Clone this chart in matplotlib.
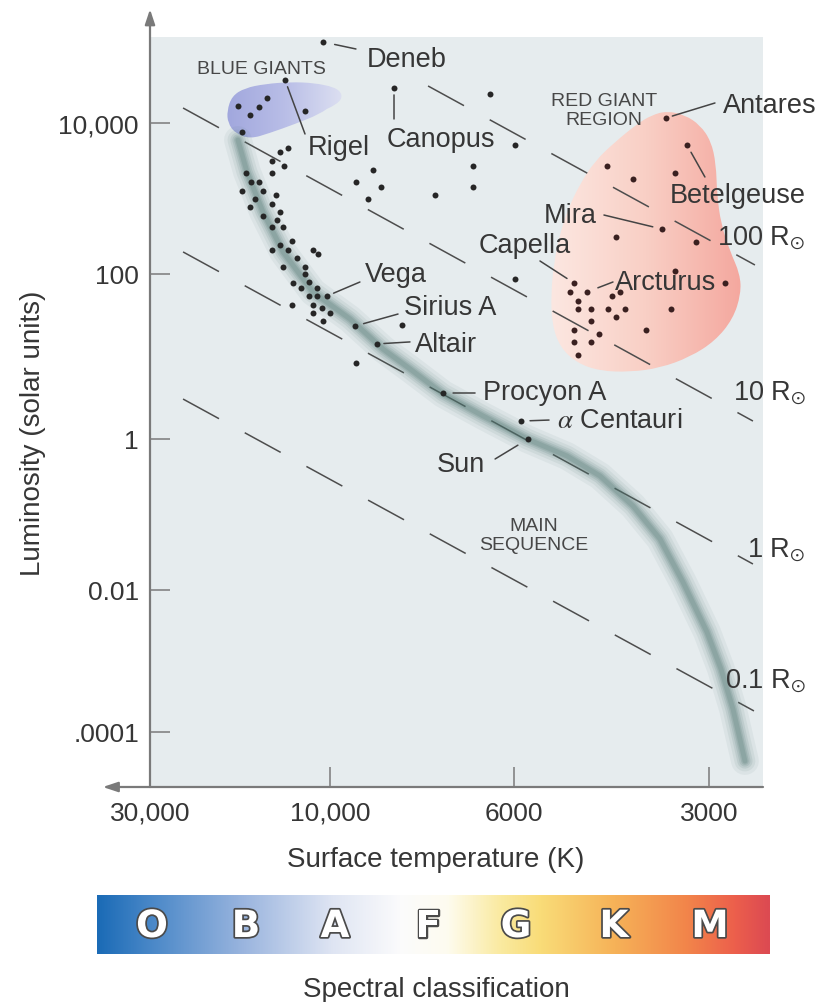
import numpy as np
import matplotlib
matplotlib.use('Agg')
import matplotlib.pyplot as plt
import matplotlib.patheffects as pe
from matplotlib.patches import PathPatch
from matplotlib.path import Path
from matplotlib.colors import LinearSegmentedColormap

plt.rcParams['font.family'] = ['Liberation Sans', 'DejaVu Sans']
plt.rcParams['mathtext.fontset'] = 'stix'
plt.rcParams['lines.scale_dashes'] = False

# ---- axis ticks ----
temp_ticks = [30000, 10000, 6000, 3000]
temp_labels = ['30,000', '10,000', '6000', '3000']
lum_ticks = [1e4, 1e2, 1, 1e-2, 1e-4]
lum_labels = ['10,000', '100', '1', '0.01', '.0001']

# ---- named stars (K, solar units) ----
star_names = ['Deneb', 'Rigel', 'Canopus', 'Antares', 'Betelgeuse', 'Mira',
              'Capella', 'Arcturus', 'Vega', 'Sirius A', 'Altair',
              'Procyon A', r'$\alpha$ Centauri', 'Sun']
star_T = [10440, 13160, 8372, 3496, 3245, 3546, 4848, 4629, 10190, 9329,
          8777, 7306, 5852, 5707]
star_L = [118300, 37110, 29080, 11650, 5112, 394, 77.8, 60.5, 54.1, 23.4,
          14.2, 3.61, 1.65, 1.0]
star_red = [False, False, False, True, True, True, True, True, False, False,
            False, False, False, False]

# ---- unnamed stars ----
dots_T = [17540, 16300, 15430, 14690, 11650, 17110,
          6412, 5979, 6722, 6722, 7469, 8873, 9303, 8680, 9000, 5979,
          13570, 12920, 14250, 13240, 14250, 16700, 16200, 15430, 17110, 15050,
          13910, 15810, 14250, 16300, 13570, 15050, 13820, 14250, 13320, 12610,
          13570, 12920, 14250, 11100, 10760, 12230, 13320, 11650, 11650, 12540,
          11370, 11940, 10830, 11370, 10830, 12610, 11100, 10500, 10000, 11100,
          10440, 8186, 9303]
dots_L = [16800, 12760, 16290, 21440, 14420, 7600,
          24220, 5112, 2695, 1420, 1113, 2385, 1654, 1420, 985, 87.0,
          4130, 4667, 3139, 2695, 2176, 2176, 1654, 1654, 1257, 1257,
          1113, 985, 846, 772, 662, 586, 519, 419, 419, 274,
          242, 208, 208, 208, 184, 163, 124, 124, 100, 77.8,
          80.0, 67.7, 67.7, 54.1, 54.1, 42.1, 42.1, 38.7, 33.7, 33.7,
          26.9, 24.1, 8.34]

red_T = [4311, 3931, 3386, 4176, 3143, 4917, 4779, 4779, 4563, 4296, 4045,
         4235, 4117, 4176, 4563, 4848, 4436, 4848, 4563, 4779, 3753, 3435,
         3386, 2835]
red_L = [2695, 1813, 2176, 309, 265, 60.5, 47.1, 37.6, 37.6, 37.6, 37.6,
         54.1, 60.5, 30.1, 26.9, 21.0, 18.7, 15.0, 15.0, 10.4, 21.0, 37.6,
         110, 77.8]

# ---- main sequence band ----
ms_T = [17540, 16600, 15050, 13320, 11100, 9460, 8632, 8008, 7306, 6537,
        5727, 4970, 4420, 3931, 3571, 3292, 3022, 2875, 2755, 2640]
ms_L = [5955, 2244, 662, 196, 60.5, 28.5, 12.3, 7.06, 3.51, 1.90,
        1.0, 0.595, 0.324, 0.130, 0.0474, 0.0128, 0.00256, 7.72e-4,
        2.11e-4, 3.9e-5]

# ---- constant radius lines (end points) ----
radius_names = ['100', '10', '1', '0.1']
radius_T = [(7617, 2548), (24520, 2566), (24520, 2566), (24520, 2557)]
radius_L = [(30920, 131.6), (15800, 1.65), (196, 0.0221), (3.05, 1.98e-4)]

# ---- regions (outline control points) ----
blue_T = [18750, 18190, 16800, 14870, 12770, 10960, 9860, 9645, 9780, 10630,
          12380, 14430, 16300, 17860, 18640]
blue_L = [14420, 22780, 29080, 32860, 34910, 33870, 29990, 23490, 17850,
          13160, 9700, 7370, 6140, 7370, 10000]

red_reg_T = [3483, 3268, 3098, 2979, 2926, 2916, 2875, 2785, 2687, 2678,
             2755, 2937, 3210, 3571, 3973, 4420, 4797, 5096, 5243, 5261,
             5206, 5113, 4952, 4746, 4500, 4190, 3875, 3675]
red_reg_L = [14420, 12760, 9408, 5774, 2864, 1147, 459.6, 201.6, 100, 57.2,
             28.5, 15.4, 9.86, 7.26, 6.49, 6.67, 8.34, 13.0, 24.8, 57.2,
             135.7, 309, 726, 1556, 3139, 5603, 9700, 12760]

spectral_classes = ['O', 'B', 'A', 'F', 'G', 'K', 'M']

# the printed temperature axis is not a clean log scale: interpolate log T
# between the printed ticks (increasing with T, axis inverted later)
t_knot_log = np.array([3.0, np.log10(3000), np.log10(6000), 4.0, np.log10(30000), 4.7])
t_knot_pos = np.array([-868.0, -559.0, -364.0, -180.0, 0.0, 84.0])
l_knot_log = np.array([-6.0, -4.0, -2.0, 0.0, 2.0, 4.0, 6.0])
l_knot_pos = np.array([-87.0, 55.0, 197.0, 348.0, 513.0, 664.0, 815.0])


def t_fwd(t):
    t = np.asarray(t, dtype=float)
    lt = np.log10(np.where(t > 0, t, 1e-9))
    return np.interp(lt, t_knot_log, t_knot_pos)


def t_inv(p):
    return 10 ** np.interp(p, t_knot_pos, t_knot_log)


def l_fwd(v):
    v = np.asarray(v, dtype=float)
    lv = np.log10(np.where(v > 0, v, 1e-30))
    return np.interp(lv, l_knot_log, l_knot_pos)


def l_inv(p):
    return 10 ** np.interp(p, l_knot_pos, l_knot_log)


def smooth_outline(xs, ys):
    # closed quadratic spline through midpoints (geometric, axes are log-like)
    pts = list(zip(xs, ys))
    n = len(pts)

    def mid(a, b):
        return (np.sqrt(a[0] * b[0]), np.sqrt(a[1] * b[1]))

    verts = [mid(pts[0], pts[1])]
    codes = [Path.MOVETO]
    for i in range(1, n + 1):
        verts += [pts[i % n], mid(pts[i % n], pts[(i + 1) % n])]
        codes += [Path.CURVE3, Path.CURVE3]
    verts.append(verts[0])
    codes.append(Path.CLOSEPOLY)
    return Path(verts, codes)


W, H = 826, 1003


def fxy(px, py):
    return px / W, 1 - py / H


fig = plt.figure(figsize=(W / 100, H / 100), dpi=100)
ax = fig.add_axes([150 / W, (H - 788) / H, 613 / W, 750 / H])
ax.set_facecolor('#e6ecee')
ax.set_xscale('function', functions=(t_fwd, t_inv))
ax.set_yscale('function', functions=(l_fwd, l_inv))

txt_col = '#363636'
axis_col = '#7a7a7a'

# regions with gradients
grad = np.linspace(0, 1, 256).reshape(1, -1)
blue_cmap = LinearSegmentedColormap.from_list('bl', ['#a0a6dd', '#b9bee7', '#dfe2f2'])
red_cmap = LinearSegmentedColormap.from_list('rd', ['#fce8e2', '#f9cfc5', '#f4a69d'])

blue_patch = PathPatch(smooth_outline(blue_T, blue_L), facecolor='none', edgecolor='none')
ax.add_patch(blue_patch)
im = ax.imshow(grad, cmap=blue_cmap, extent=(0.12, 0.32, 0, 1), transform=ax.transAxes,
               aspect='auto', zorder=1, interpolation='bicubic')
im.set_clip_path(blue_patch)

red_patch = PathPatch(smooth_outline(red_reg_T, red_reg_L), facecolor='none', edgecolor='none')
ax.add_patch(red_patch)
im2 = ax.imshow(grad, cmap=red_cmap, extent=(0.65, 0.97, 0, 1), transform=ax.transAxes,
                aspect='auto', zorder=1, interpolation='bicubic')
im2.set_clip_path(red_patch)

# constant radius lines
for ts, ls in zip(radius_T, radius_L):
    ax.plot(ts, ls, color='#4d4d4d', lw=1.1, dashes=(29.5, 21.1), zorder=2)

# main sequence band, soft edged
for w, a in [(20, 0.07), (15, 0.09), (11, 0.12), (8, 0.15), (5.5, 0.18), (3.5, 0.2)]:
    ax.plot(ms_T, ms_L, color='#4f7671', lw=w, alpha=a, solid_capstyle='round',
            solid_joinstyle='round', zorder=3)

# stars
ax.plot(dots_T, dots_L, 'o', color='#262626', ms=4.3, mew=0, zorder=5)
ax.plot(red_T, red_L, 'o', color='#3a2020', ms=4.3, mew=0, zorder=5)
for t, l, r in zip(star_T, star_L, star_red):
    ax.plot(t, l, 'o', color='#3a2020' if r else '#262626', ms=4.3, mew=0, zorder=5)

# labels: text offset (px), alignment, leader far end (px), gap at star (pt)
label_style = {
    'Deneb': (44, -24, 'left', (33, -7), 8.6),
    'Rigel': (23, -74, 'left', (20, -54), 5.2),
    'Canopus': (47, -58, 'center', (0, -31), 5.0),
    'Antares': (57, 6, 'left', (49, 15), 4.8),
    'Betelgeuse': (-17, -57, 'left', (18, -32), 6.0),
    'Mira': (-65, 7, 'right', (-58, 14), 6.8),
    'Capella': (-49, 31, 'center', (-34, 22), 6.0),
    'Arcturus': (28, 3, 'left', (26, 10), 8.4),
    'Vega': (38, 15, 'left', (33, 14), 5.2),
    'Sirius A': (49, 12, 'left', (43, 12), 6.4),
    'Altair': (38, -7, 'left', (33, 2), 5.0),
    'Procyon A': (40, -6, 'left', (32, 0), 7.2),
    r'$\alpha$ Centauri': (36, -6, 'left', (28, 1), 6.5),
    'Sun': (-43, -32, 'right', (-33, -20), 8.6),
}
for name, t, l in zip(star_names, star_T, star_L):
    dx, dy, ha, far, gap = label_style[name]
    ax.annotate(name, xy=(t, l), xytext=(dx, dy), textcoords='offset pixels',
                ha=ha, va='baseline', fontsize=19.5, color=txt_col, zorder=6)
    ax.annotate('', xy=(t, l), xytext=far, textcoords='offset pixels',
                arrowprops=dict(arrowstyle='-', color='#444444', lw=1.1,
                                shrinkA=0, shrinkB=gap), zorder=6)

# region captions
cap_kw = dict(fontsize=14, color='#474747', ha='center', va='center',
              linespacing=1.15, transform=fig.transFigure)
fig.text(*fxy(261, 70), 'BLUE GIANTS', **cap_kw)
fig.text(*fxy(604, 111), 'RED GIANT\nREGION', **cap_kw)
fig.text(*fxy(534, 536), 'MAIN\nSEQUENCE', **cap_kw)

# radius labels
for name, (px, py) in zip(radius_names, [(717, 245), (733, 400), (747, 557), (725, 688)]):
    fig.text(*fxy(px, py), name + r' R$_{\odot}$', fontsize=19.5, color=txt_col,
             ha='left', va='baseline')

# axes and ticks
for s in ax.spines.values():
    s.set_visible(False)
ax.set_xticks(temp_ticks)
ax.set_xticklabels(temp_labels)
ax.set_yticks(lum_ticks)
ax.set_yticklabels(lum_labels)
ax.minorticks_off()
ax.tick_params(direction='in', length=14.4, width=1.1, color=axis_col,
               labelsize=19, labelcolor=txt_col)
ax.tick_params(axis='x', pad=10)
ax.tick_params(axis='y', pad=8)

arrow = dict(arrowstyle='-|>,head_length=0.9,head_width=0.3', color=axis_col, lw=1.6,
             shrinkA=0, shrinkB=0)
ax.annotate('', xy=(0, 1.037), xytext=(0, 0), xycoords='axes fraction',
            arrowprops=arrow, annotation_clip=False)
ax.annotate('', xy=(-0.077, 0), xytext=(1, 0), xycoords='axes fraction',
            arrowprops=arrow, annotation_clip=False)

ax.set_xlim(30000, 2476)
ax.set_ylim(1.68e-5, 1.377e5)

fig.text(*fxy(33, 433), 'Luminosity (solar units)', rotation=90, fontsize=20,
         color=txt_col, ha='center', va='center')
fig.text(*fxy(436, 860), 'Surface temperature (K)', fontsize=20, color=txt_col,
         ha='center', va='center')

# spectral class bar
spec_cmap = LinearSegmentedColormap.from_list('spec', [
    (0.0, '#1b6bb6'), (0.08, '#4a88c8'), (0.22, '#9cb6df'), (0.35, '#dfe5f3'),
    (0.45, '#fbfbfc'), (0.52, '#fefcf0'), (0.6, '#faeaa0'), (0.66, '#f9dc78'),
    (0.77, '#f6b258'), (0.88, '#f2844a'), (0.95, '#ec5f4c'), (1.0, '#dc4a52')])
cax = fig.add_axes([97 / W, (H - 955) / H, 673 / W, 59 / H])
cax.imshow(grad, cmap=spec_cmap, aspect='auto', extent=(0, 1, 0, 1))
cax.axis('off')
for c, px in zip(spectral_classes, [152, 246, 335, 428, 516, 614, 710]):
    fig.text(*fxy(px, 928), c, fontsize=27, fontweight='bold', color='white',
             family='DejaVu Sans', ha='center', va='center',
             path_effects=[pe.Stroke(linewidth=2.5, foreground='#4a4a4a'), pe.Normal()])

fig.text(*fxy(436, 990), 'Spectral classification', fontsize=20, color=txt_col,
         ha='center', va='center')

plt.savefig('out.png', dpi=100)
